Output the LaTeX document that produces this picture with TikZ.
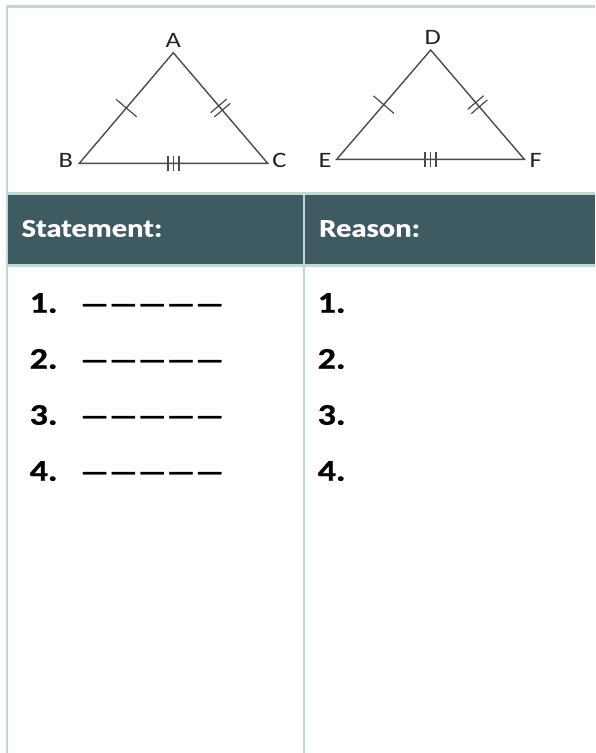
\documentclass[tikz,border=0pt]{standalone}
\usepackage{fontspec}
\setmainfont{Carlito}[FakeStretch=1.2, BoldFeatures={FakeBold=0.8}]
\usetikzlibrary{calc}
\definecolor{bordc}{RGB}{191,216,212}
\definecolor{headc}{RGB}{63,91,98}
\definecolor{linec}{RGB}{75,75,75}
\definecolor{labc}{RGB}{35,35,35}
\tikzset{
  tri/.style={draw=linec, line width=1.4pt, line join=miter},
  tick/.style={draw=linec, line width=1.2pt},
  vlabel/.style={inner sep=0pt, text=labc, font=\fontsize{22}{26}\selectfont},
  headtxt/.style={inner sep=0pt, anchor=base west, text=white, font=\bfseries\fontsize{25.5}{30}\selectfont},
  numtxt/.style={inner sep=0pt, anchor=base west, text=black, font=\bfseries\fontsize{30}{34}\selectfont},
  dashtxt/.style={inner sep=0pt, anchor=base west, text=black, font=\bfseries\fontsize{26.5}{32}\selectfont}
}
\begin{document}
\begin{tikzpicture}[x=1pt,y=-1pt]
\useasboundingbox (0,0) rectangle (595,753);
\fill[white] (0,0) rectangle (595,753);
% header band
\fill[headc] (8.3,195) rectangle (595,264);
% table rules
\fill[bordc] (5.5,5) rectangle (595,8);
\fill[bordc] (5.5,5) rectangle (8.3,753);
\fill[bordc] (5.5,192.3) rectangle (595,195);
\fill[bordc] (5.5,264) rectangle (595,266.7);
\fill[bordc] (302.7,195) rectangle (305.3,753);

% triangle ABC
\coordinate (A) at (173.3,52.7);
\coordinate (B) at (79.3,163.3);
\coordinate (C) at (267.7,163.3);
% triangle DEF
\coordinate (D) at (430.7,50);
\coordinate (E) at (336.7,159.3);
\coordinate (F) at (524.3,159.3);

\foreach \P/\Q/\R in {A/B/C, D/E/F} {
  \draw[tri] (\P) -- (\Q) -- (\R) -- cycle;
  % single tick on P-Q
  \coordinate (m1) at ($(\P)!0.5!(\Q)$);
  \draw[tick] ($(m1)!13.5pt!90:(\Q)$) -- ($(m1)!13.5pt!-90:(\Q)$);
  % double tick on P-R
  \coordinate (m2) at ($(\P)!0.5!(\R)$);
  \coordinate (m2a) at ($(m2)!2.8pt!(\R)$);
  \coordinate (m2b) at ($(m2)!-2.8pt!(\R)$);
  \draw[tick] ($(m2a)!10.5pt!90:(\R)$) -- ($(m2a)!10.5pt!-90:(\R)$);
  \draw[tick] ($(m2b)!10.5pt!90:(\R)$) -- ($(m2b)!10.5pt!-90:(\R)$);
  % triple tick on Q-R
  \coordinate (m3) at ($(\Q)!0.5!(\R)$);
  \foreach \s in {-5.5,0,5.5} {
    \coordinate (m3s) at ($(m3)+(\s,0)$);
    \draw[tick] ($(m3s)+(0,-7.5)$) -- ($(m3s)+(0,7.5)$);
  }
}

\node[vlabel] (lA) at (173.3,40) {A};
\node[vlabel] (lB) at (65.7,160.5) {B};
\node[vlabel] (lC) at (279.5,160.5) {C};
\node[vlabel] (lD) at (432.7,37) {D};
\node[vlabel] (lE) at (325,160) {E};
\node[vlabel] (lF) at (535.7,160) {F};

% header
\node[headtxt] (hs) at (21.4,236.7) {Statement:};
\node[headtxt] (hr) at (319,236.7) {Reason:};

% rows
\foreach \n [count=\i from 0] in {1,2,3,4} {
  \pgfmathsetmacro{\yb}{312.7+56*\i}
  \node[numtxt] (sn\n) at (29.5,\yb) {\n.};
  \node[dashtxt] (sd\n) at (80,\yb) {—————};
  \node[numtxt] (rn\n) at (317.5,\yb) {\n.};
}
\end{tikzpicture}
\end{document}
